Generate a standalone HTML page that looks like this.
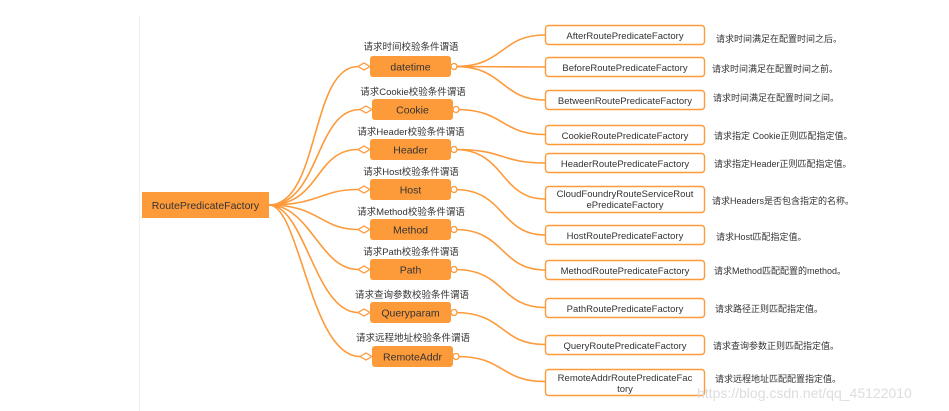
<!DOCTYPE html>
<html><head><meta charset="utf-8"><style>
html,body{margin:0;padding:0;background:#fff;}
svg{display:block;}
text{font-family:"Liberation Sans","Noto Sans CJK SC",sans-serif;}
</style></head><body>
<svg width="949" height="411" viewBox="0 0 949 411" xmlns="http://www.w3.org/2000/svg">
<line x1="139.5" y1="16" x2="139.5" y2="411" stroke="#eee" stroke-width="1"/>
<g fill="none" stroke="#fd9a3a" stroke-width="1.6">
<path d="M269,205 C320,205 310,66.5 358,66.5"/>
<path d="M269,205 C320,205 315,109.5 360,109.5"/>
<path d="M269,205 C320,205 315,149.5 358,149.5"/>
<path d="M269,205 C320,205 320,189.5 358,189.5"/>
<path d="M269,205 C320,205 320,229.5 358,229.5"/>
<path d="M269,205 C310,205 320,269.5 358,269.5"/>
<path d="M269,205 C305,205 315,312.5 358,312.5"/>
<path d="M269,205 C300,205 310,356.5 360,356.5"/>
<path d="M455,66.5 C505,66.5 500,35 545,35"/>
<path d="M455,66.5 C500,66.5 500,67 545,67"/>
<path d="M455,66.5 C505,66.5 500,100 545,100"/>
<path d="M456,109.5 C505,109.5 500,134.5 545,134.5"/>
<path d="M455,149.5 C505,149.5 500,163 545,163"/>
<path d="M455,149.5 C505,149.5 500,199 545,199"/>
<path d="M455,189.5 C505,189.5 500,235 545,235"/>
<path d="M455,229.5 C505,229.5 500,270 545,270"/>
<path d="M455,269.5 C505,269.5 500,307.5 545,307.5"/>
<path d="M455,312.5 C505,312.5 500,344.5 545,344.5"/>
<path d="M457,356.5 C505,356.5 500,381.5 545,381.5"/>
</g>
<rect x="142" y="192" width="127" height="26" fill="#fd9a3a"/>
<text x="205.5" y="209" font-size="10.5" fill="#333" text-anchor="middle">RoutePredicateFactory</text>
<g font-size="9.5" fill="#333" text-anchor="middle">
<text x="411" y="50">请求时间校验条件谓语</text>
<text x="413" y="95">请求Cookie校验条件谓语</text>
<text x="411" y="135">请求Header校验条件谓语</text>
<text x="411" y="175">请求Host校验条件谓语</text>
<text x="411" y="215">请求Method校验条件谓语</text>
<text x="411" y="255">请求Path校验条件谓语</text>
<text x="412" y="298">请求查询参数校验条件谓语</text>
<text x="413" y="341">请求远程地址校验条件谓语</text>
</g>
<g fill="#fd9a3a">
<rect x="370" y="56" width="81" height="21" rx="3"/>
<rect x="372" y="99" width="81" height="21" rx="3"/>
<rect x="370" y="139" width="81" height="21" rx="3"/>
<rect x="370" y="179" width="81" height="21" rx="3"/>
<rect x="370" y="219" width="81" height="21" rx="3"/>
<rect x="370" y="259" width="81" height="21" rx="3"/>
<rect x="370" y="302" width="81" height="21" rx="3"/>
<rect x="372" y="346" width="81" height="21" rx="3"/>
</g>
<g font-size="10.5" fill="#333" text-anchor="middle">
<text x="410.5" y="70.5">datetime</text>
<text x="412.5" y="113.5">Cookie</text>
<text x="410.5" y="153.5">Header</text>
<text x="410.5" y="193.5">Host</text>
<text x="410.5" y="233.5">Method</text>
<text x="410.5" y="273.5">Path</text>
<text x="410.5" y="316.5">Queryparam</text>
<text x="412.5" y="360.5">RemoteAddr</text>
</g>
<g fill="#fff" stroke="#fd9a3a" stroke-width="1.3">
<path d="M358,66.5 l6,-3.5 l6,3.5 l-6,3.5z"/>
<path d="M360,109.5 l6,-3.5 l6,3.5 l-6,3.5z"/>
<path d="M358,149.5 l6,-3.5 l6,3.5 l-6,3.5z"/>
<path d="M358,189.5 l6,-3.5 l6,3.5 l-6,3.5z"/>
<path d="M358,229.5 l6,-3.5 l6,3.5 l-6,3.5z"/>
<path d="M358,269.5 l6,-3.5 l6,3.5 l-6,3.5z"/>
<path d="M358,312.5 l6,-3.5 l6,3.5 l-6,3.5z"/>
<path d="M360,356.5 l6,-3.5 l6,3.5 l-6,3.5z"/>
<circle cx="454" cy="66.5" r="3"/>
<circle cx="456" cy="109.5" r="3"/>
<circle cx="454" cy="149.5" r="3"/>
<circle cx="454" cy="189.5" r="3"/>
<circle cx="454" cy="229.5" r="3"/>
<circle cx="454" cy="269.5" r="3"/>
<circle cx="454" cy="312.5" r="3"/>
<circle cx="456" cy="356.5" r="3"/>
</g>
<g fill="#fff" stroke="#fd9a3a" stroke-width="1.4">
<rect x="545.5" y="25.5" width="159" height="19" rx="3"/>
<rect x="545.5" y="57.5" width="159" height="19" rx="3"/>
<rect x="545.5" y="90.5" width="159" height="19" rx="3"/>
<rect x="545.5" y="125.5" width="159" height="19" rx="3"/>
<rect x="545.5" y="153.5" width="159" height="19" rx="3"/>
<rect x="545.5" y="186.5" width="159" height="26" rx="3"/>
<rect x="545.5" y="225.5" width="159" height="19" rx="3"/>
<rect x="545.5" y="260.5" width="159" height="19" rx="3"/>
<rect x="545.5" y="298.5" width="159" height="19" rx="3"/>
<rect x="545.5" y="335.5" width="159" height="19" rx="3"/>
<rect x="545.5" y="369.5" width="159" height="26" rx="3"/>
</g>
<g font-size="9.5" fill="#333" text-anchor="middle">
<text x="625" y="39">AfterRoutePredicateFactory</text>
<text x="625" y="71">BeforeRoutePredicateFactory</text>
<text x="625" y="104">BetweenRoutePredicateFactory</text>
<text x="625" y="139">CookieRoutePredicateFactory</text>
<text x="625" y="167">HeaderRoutePredicateFactory</text>
<text x="625" y="197">CloudFoundryRouteServiceRout</text>
<text x="625" y="208">ePredicateFactory</text>
<text x="625" y="239">HostRoutePredicateFactory</text>
<text x="625" y="274">MethodRoutePredicateFactory</text>
<text x="625" y="312">PathRoutePredicateFactory</text>
<text x="625" y="349">QueryRoutePredicateFactory</text>
<text x="625" y="381">RemoteAddrRoutePredicateFac</text>
<text x="625" y="392">tory</text>
</g>
<g font-size="9" fill="#333">
<text x="716" y="42">请求时间满足在配置时间之后。</text>
<text x="712" y="72">请求时间满足在配置时间之前。</text>
<text x="713" y="101">请求时间满足在配置时间之间。</text>
<text x="714" y="139">请求指定 Cookie正则匹配指定值。</text>
<text x="714" y="167">请求指定Header正则匹配指定值。</text>
<text x="712" y="204">请求Headers是否包含指定的名称。</text>
<text x="716" y="240">请求Host匹配指定值。</text>
<text x="714" y="274">请求Method匹配配置的method。</text>
<text x="715" y="312">请求路径正则匹配指定值。</text>
<text x="713" y="349">请求查询参数正则匹配指定值。</text>
<text x="715" y="382">请求远程地址匹配配置指定值。</text>
</g>
<text x="697" y="398" font-size="14" fill="#ddd">https://blog.csdn.net/qq_45122010</text>
</svg>
</body></html>
